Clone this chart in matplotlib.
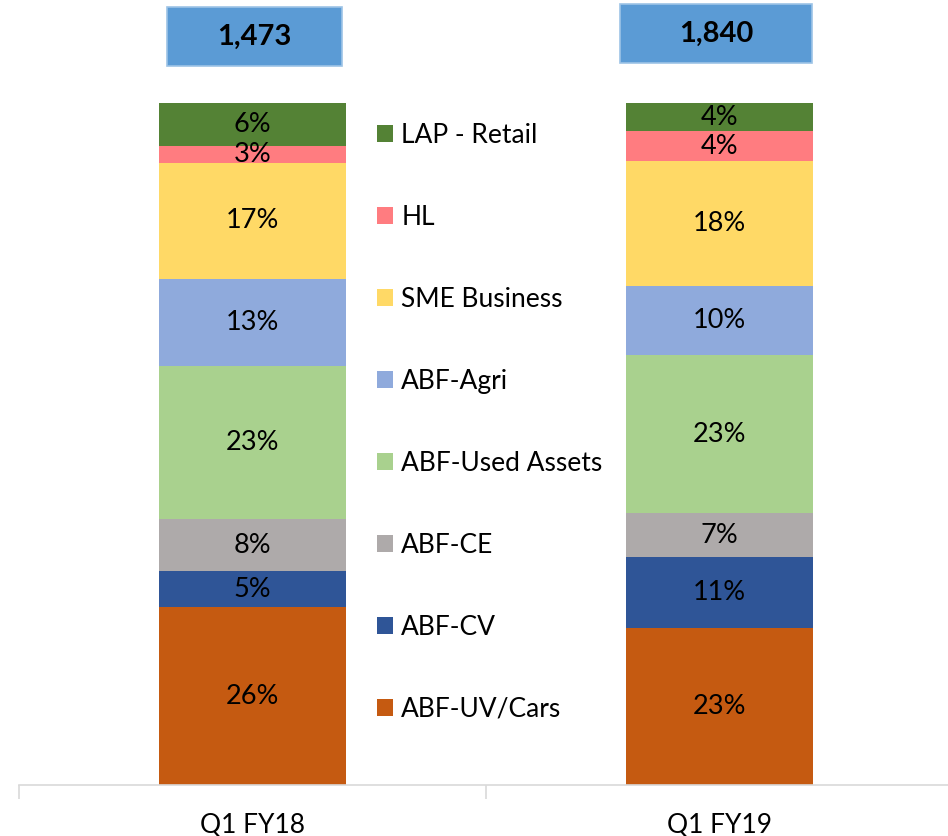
import matplotlib
matplotlib.use("Agg")
import matplotlib.pyplot as plt
from matplotlib.patches import Rectangle, Patch

plt.rcParams['font.family'] = ['Lato', 'DejaVu Sans']

# data (bottom -> top)
quarters = ['Q1 FY18', 'Q1 FY19']
totals = ['1,473', '1,840']
segments = ['ABF-UV/Cars', 'ABF-CV', 'ABF-CE', 'ABF-Used Assets',
            'ABF-Agri', 'SME Business', 'HL', 'LAP - Retail']
fy18 = [26.0, 5.3, 7.6, 22.5, 12.7, 17.0, 2.5, 6.3]
fy19 = [23.0, 10.4, 6.4, 23.1, 10.1, 18.3, 4.4, 4.2]
fy18_labels = ['26%', '5%', '8%', '23%', '13%', '17%', '3%', '6%']
fy19_labels = ['23%', '11%', '7%', '23%', '10%', '18%', '4%', '4%']
colors = ['#C55A11', '#2F5597', '#AEAAAA', '#A9D18E',
          '#8FAADC', '#FFD966', '#FF7C80', '#548235']

W, H = 948, 836
fig = plt.figure(figsize=(W / 100, H / 100), dpi=100)
ax = fig.add_axes([19 / W, 1 - 785 / H, 934 / W, (785 - 102) / H])

vals = [fy18, fy19]
labs = [fy18_labels, fy19_labels]
x = [0, 1]
for q in range(2):
    bottom = 0
    for i, v in enumerate(vals[q]):
        ax.bar(x[q], v, 0.4, bottom=bottom, color=colors[i], linewidth=0)
        ax.text(x[q], bottom + v / 2, labs[q][i], ha='center', va='center',
                fontsize=19.5, color='black')
        bottom += v

ax.set_xlim(-0.5, 1.5)
ax.set_ylim(0, 100)
for s in ['top', 'right', 'left']:
    ax.spines[s].set_visible(False)
ax.spines['bottom'].set_color('#D9D9D9')
ax.spines['bottom'].set_linewidth(1.2)
ax.set_yticks([])
ax.set_xticks([-0.5, 0.5, 1.5], minor=False)
ax.set_xticklabels([])
ax.tick_params(axis='x', which='major', length=10, color='#D9D9D9', width=1.2)
ax.set_xticks(x, minor=True)
ax.set_xticklabels(quarters, minor=True, fontsize=19)
ax.tick_params(axis='x', which='minor', length=0, pad=20)

# total boxes above bars
box_w = [0.375, 0.41]
box_cx = [0.004, 0.993]
box_y = [105.3, 105.7]
for q in range(2):
    ax.add_patch(Rectangle((box_cx[q] - box_w[q] / 2, box_y[q]), box_w[q], 8.6,
                           facecolor='#5B9BD5', edgecolor='#9DC3E6', linewidth=1.2,
                           clip_on=False))
    ax.text(box_cx[q], box_y[q] + 4.3, totals[q], ha='center', va='center',
            fontsize=21, fontweight='bold', clip_on=False)

handles = [Patch(facecolor=colors[i], label=segments[i]) for i in range(len(segments))][::-1]
fig.legend(handles=handles, loc='upper left', bbox_to_anchor=(377 / W, 1 - 123 / H),
           frameon=False, fontsize=19, labelspacing=2.16, handlelength=0.6,
           handleheight=0.6, handletextpad=0.32, borderpad=0, borderaxespad=0)

fig.savefig('out.png', dpi=100)
